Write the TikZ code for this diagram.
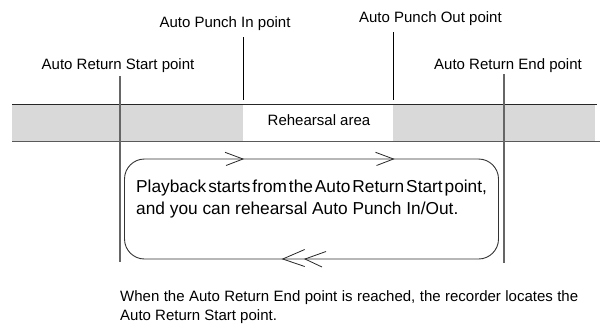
\documentclass[tikz,border=0pt]{standalone}
\usepackage{fontspec}
\setmainfont{Liberation Sans}
\begin{document}
\begin{tikzpicture}[x=1pt,y=-1pt,
  lbl/.style={font=\fontsize{15}{18}\selectfont, inner sep=0pt, anchor=base},
  maintxt/.style={font=\fontsize{17.3}{22}\selectfont, inner sep=0pt, anchor=base west},
  marker/.style={draw=black, line width=0.8pt},
  boundary/.style={draw=black!60, line width=1.3pt},
  bandline/.style={line width=1pt},
  chev/.style={draw=black!85, line width=0.8pt}]
\useasboundingbox (0,0) rectangle (609,327);
% band
\fill[black!15] (12,104) rectangle (595,141.5);
\fill[white] (243,104) rectangle (393.3,141.5);
\draw[bandline, black!85] (12,104) -- (597,104);
\draw[bandline, black!65] (12,141.5) -- (600,141.5);
\node[lbl] (reh) at (319,125.7) {Rehearsal area};
% labels
\node[lbl] (ars) at (118,69) {Auto Return Start point};
\node[lbl] (api) at (225,27.3) {Auto Punch In point};
\node[lbl] (apo) at (430.4,22) {Auto Punch Out point};
\node[lbl] (are) at (508,69) {Auto Return End point};
% vertical markers
\coordinate (s1) at (120,76); \coordinate (s2) at (120,262);
\coordinate (e1) at (504,74); \coordinate (e2) at (504,263);
\coordinate (i1) at (243,37); \coordinate (i2) at (243,100);
\coordinate (o1) at (393.3,32); \coordinate (o2) at (393.3,100);
\draw[boundary] (s1) -- (s2);
\draw[boundary] (e1) -- (e2);
\draw[marker] (i1) -- (i2);
\draw[marker] (o1) -- (o2);
% loop
\node[draw=black!80, line width=0.9pt, rounded corners=20pt, minimum width=374pt, minimum height=100pt, inner sep=0pt] (loop) at (311.5,209) {};
% chevrons
\coordinate (t1) at (243,159); \coordinate (t2) at (393.5,159);
\draw[chev] ([xshift=-18pt,yshift=6.7pt]t1) -- (t1) -- ([xshift=-17pt,yshift=-6.5pt]t1);
\draw[chev] ([xshift=-18pt,yshift=6.7pt]t2) -- (t2) -- ([xshift=-17pt,yshift=-6.5pt]t2);
\coordinate (b1) at (282.7,259); \coordinate (b2) at (305,259);
\draw[chev] ([xshift=22pt,yshift=9.5pt]b1) -- (b1) -- ([xshift=22pt,yshift=-7.5pt]b1);
\draw[chev] ([xshift=21pt,yshift=7.5pt]b2) -- (b2) -- ([xshift=17pt,yshift=-8pt]b2);
% main text
\node[maintxt] (m1) at (136,192) {\spaceskip=1.9pt plus 0.5pt\relax Playback starts from the Auto Return Start point,};
\node[maintxt] (m2) at (136,214) {and you can rehearsal Auto Punch In/Out.};
% bottom text
\node[lbl, anchor=base west] (n1) at (120,301) {\makebox[458pt][s]{When the Auto Return End point is reached, the recorder locates the}};
\node[lbl, anchor=base west] (n2) at (120,320) {Auto Return Start point.};
\end{tikzpicture}
\end{document}
